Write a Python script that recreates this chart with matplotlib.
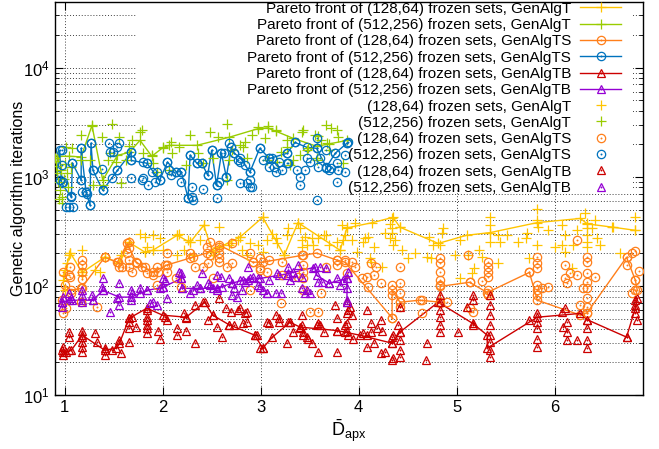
import matplotlib.pyplot as plt
from matplotlib.patches import Rectangle
from matplotlib.legend_handler import HandlerTuple
from matplotlib.ticker import LogLocator, NullFormatter, FixedLocator

plt.rcParams['font.family'] = ['Liberation Sans', 'DejaVu Sans']
plt.rcParams['mathtext.fontset'] = 'custom'
plt.rcParams['mathtext.rm'] = 'Liberation Sans'
plt.rcParams['mathtext.it'] = 'Liberation Sans:italic'

# ---- Pareto fronts ----
pf_t128_x = [0.99, 1.06, 1.18, 1.41, 1.56, 1.66, 1.82, 1.90, 2.15, 2.28, 2.42, 2.51, 2.58, 2.79, 3.02, 3.24,
             3.38, 3.81, 3.88, 4.14, 4.35, 4.42, 4.81, 5.10, 5.34, 5.82, 6.26, 6.33, 6.59, 6.82]
pf_t128_y = [125, 200, 133, 183, 161, 250, 204, 212, 291, 250, 359, 204, 226, 280, 425, 191,
             380, 212, 340, 380, 425, 345, 245, 291, 308, 380, 415, 370, 345, 323]

pf_t512_x = [0.92, 1.05, 1.17, 1.28, 1.39, 1.54, 1.66, 1.77, 1.89, 2.00, 2.07, 2.35, 2.68, 2.97, 3.07,
             3.16, 3.33, 3.57, 3.70, 3.88]
pf_t512_y = [1540, 1540, 1520, 2950, 930, 1570, 1670, 2155, 1540, 1840, 1940, 1940, 2300, 2750, 2800,
             2600, 2250, 1900, 2000, 2150]

pf_ts128_x = [0.97, 1.00, 1.07, 1.17, 1.41, 1.54, 1.64, 1.73, 1.90, 2.04, 2.28, 2.45, 2.58, 2.92, 3.02,
              3.43, 3.57, 3.78, 3.86, 4.34, 4.34, 4.42, 4.62, 4.83, 4.83, 5.13, 5.31, 5.74, 5.82, 6.26,
              6.33, 6.73, 6.82, 6.84]
pf_ts128_y = [74, 101, 91, 95, 183, 165, 245, 165, 133, 155, 180, 200, 236, 165, 165,
              191, 200, 172, 165, 51, 91, 71, 74, 71, 99, 108, 87, 133, 74, 54,
              57, 183, 113, 91]

pf_ts512_x = [0.92, 0.95, 0.97, 1.07, 1.08, 1.17, 1.17, 1.22, 1.26, 1.27, 1.29, 1.39, 1.54, 1.68, 1.68,
              1.84, 1.97, 2.05, 2.14, 2.19, 2.26, 2.28, 2.35, 2.40, 2.46, 2.50, 2.55, 2.60, 2.65, 2.70,
              2.73, 2.79, 2.89, 2.99, 3.09, 3.27, 3.35, 3.47, 3.57, 3.67, 3.76, 3.88]
pf_ts512_y = [1030, 1746, 870, 650, 1330, 930, 1820, 720, 550, 2030, 1145, 750, 1145, 1670, 1410,
              1330, 930, 1360, 1110, 1110, 640, 1570, 1330, 1330, 1030, 1746, 834, 1640, 990, 1860,
              1640, 1500, 1100, 1820, 1470, 1640, 2060, 1860, 1820, 1220, 1640, 2030]

pf_tb128_x = [0.97, 1.02, 1.07, 1.18, 1.41, 1.53, 1.56, 1.66, 1.84, 2.00, 2.24, 2.43, 2.51, 2.68, 2.94,
              3.02, 3.12, 3.30, 3.40, 3.78, 4.01, 4.34, 4.42, 4.81, 5.16, 5.31, 5.31, 5.82, 6.26, 6.33,
              6.73, 6.82, 6.84]
pf_tb128_y = [25.8, 24.7, 25.8, 35.4, 25.8, 26.9, 29.8, 50.6, 62.5, 54, 51.7, 70.9, 54, 44, 35.4,
              26.9, 34, 46.5, 42, 39, 35.4, 29.9, 37.8, 70.9, 45.5, 35.4, 26.9, 51.7, 56, 49,
              34, 62.5, 77]

pf_tb512_x = [0.97, 1.05, 1.18, 1.29, 1.39, 1.56, 1.68, 1.84, 2.00, 2.19, 2.20, 2.38, 2.55, 2.71, 2.82,
              2.99, 3.19, 3.28, 3.55, 3.57, 3.70, 3.88, 3.88]
pf_tb512_y = [71, 74, 74, 74, 91, 79, 79, 91, 97, 117, 95, 95, 95, 106, 113,
              117, 125, 130, 148, 125, 106, 117, 74]

# ---- all frozen sets ----
t128_x = [1.00, 1.06, 0.98, 1.18, 1.18, 1.31, 1.41, 1.56, 1.58, 1.66, 1.77, 1.82, 1.84, 1.82, 1.90, 1.97,
          2.15, 2.15, 2.22, 2.28, 2.42, 2.51, 2.58, 2.58, 2.70, 2.79, 2.81, 1.00, 1.03, 1.05, 1.18, 1.36,
          1.90, 2.00, 2.17, 2.26, 2.31, 2.38, 2.51, 2.86, 3.02, 3.16, 3.27, 3.40, 3.42, 3.47, 3.53, 3.58,
          3.65, 2.68, 2.77, 2.89, 2.97, 3.02, 3.06, 3.12, 3.17, 3.24, 3.28, 3.38, 3.42, 3.45, 3.52, 3.67,
          3.70, 3.78, 3.81, 3.83, 3.88, 3.86, 3.96, 3.98, 4.04, 4.06, 4.09, 4.16, 4.24, 4.27, 4.32, 4.34,
          4.32, 4.35, 4.34, 4.37, 4.11, 4.13, 4.34, 4.42, 4.44, 4.50, 4.57, 4.72, 4.76, 4.70, 4.74, 4.83,
          4.85, 4.86, 4.98, 5.03, 5.03, 5.11, 5.15, 5.18, 5.23, 5.26, 5.34, 5.34, 5.34, 5.34, 5.42, 5.44,
          5.42, 5.51, 5.62, 5.71, 5.72, 5.74, 5.82, 5.82, 5.83, 5.82, 5.93, 6.00, 6.07, 6.07, 6.10, 6.10,
          6.18, 6.17, 6.23, 6.31, 6.33, 6.33, 6.33, 6.33, 6.33, 6.38, 6.41, 6.43, 6.46, 6.58, 6.66, 6.82,
          6.82, 3.84, 3.93]
t128_y = [91, 199, 113, 212, 133, 139, 183, 162, 191, 251, 302, 279, 226, 203, 212, 273,
          291, 191, 212, 251, 359, 203, 345, 226, 246, 279, 212, 139, 162, 191, 125, 133,
          291, 212, 302, 262, 191, 262, 191, 191, 203, 273, 291, 338, 262, 236, 236, 273,
          291, 236, 262, 246, 236, 425, 262, 302, 246, 191, 338, 380, 226, 279, 273, 291,
          236, 251, 212, 359, 345, 291, 380, 203, 251, 273, 279, 226, 148, 308, 372, 415,
          273, 236, 308, 262, 179, 165, 338, 345, 212, 179, 199, 279, 236, 183, 179, 236,
          308, 338, 191, 117, 262, 191, 130, 145, 212, 183, 425, 359, 308, 251, 291, 251,
          162, 291, 251, 273, 308, 179, 510, 399, 345, 236, 323, 226, 236, 359, 291, 203,
          236, 145, 323, 470, 380, 338, 291, 251, 226, 338, 399, 273, 236, 345, 199, 425,
          323, 262, 262]

t512_x = [0.90, 0.93, 0.95, 0.97, 0.92, 1.02, 1.03, 1.07, 1.08, 1.17, 1.17, 1.26, 1.28, 1.38, 1.39, 1.48,
          1.46, 1.53, 1.56, 1.58, 1.66, 1.69, 1.79, 1.80, 1.89, 1.90, 2.00, 2.09, 2.10, 2.17, 2.28, 2.36,
          2.41, 2.48, 2.51, 2.56, 2.66, 2.71, 2.82, 2.86, 2.97, 3.04, 3.06, 3.16, 3.21, 3.27, 3.33, 3.43,
          3.48, 3.55, 3.57, 3.62, 3.68, 2.84, 2.91, 3.07, 3.42, 3.47, 3.58, 3.67, 3.70, 3.78, 3.79, 3.57,
          3.40, 3.30, 3.27, 2.66, 3.17, 2.79, 3.72, 3.84, 1.29, 1.44, 1.63, 1.94, 2.07, 2.24, 2.68, 1.77,
          0.91, 0.93, 0.96, 0.99, 1.01, 1.04, 0.94, 0.97]
t512_y = [1500, 890, 751, 650, 1075, 1860, 1075, 1220, 1820, 2395, 1414, 1414, 2890, 2300, 834, 3070,
          1640, 1360, 2300, 870, 1900, 2155, 2660, 1640, 1571, 1330, 1860, 2070, 1640, 1860, 2395, 1640,
          1330, 2550, 1500, 2300, 3070, 1746, 1860, 1500, 2830, 2250, 1414, 2660, 1670, 2155, 1414, 2660,
          1820, 2395, 1414, 2155, 2030, 2070, 2395, 2890, 2550, 1746, 2350, 2954, 1746, 2660, 2300, 1500,
          1571, 1272, 1860, 927, 1360, 1940, 2770, 1330, 834, 1414, 1414, 1100, 1145, 1272, 1414, 2550,
          1250, 1400, 1150, 950, 1300, 800, 620, 580]

ts128_x = [0.98, 1.06, 1.06, 1.18, 1.18, 1.18, 1.18, 1.41, 1.55, 1.56, 1.66, 1.66, 1.66, 1.66, 1.69, 1.74,
           1.82, 1.84, 1.94, 1.95, 2.02, 2.05, 2.05, 2.14, 2.28, 2.31, 2.33, 2.41, 2.45, 2.48, 2.48, 2.58,
           2.58, 2.58, 2.66, 2.71, 2.51, 0.98, 1.02, 1.05, 1.07, 1.18, 1.17, 1.33, 1.59, 1.64, 1.79, 1.90,
           1.94, 2.04, 2.19, 2.46, 2.58, 2.71, 2.89, 2.92, 2.99, 3.06, 3.22, 3.21, 3.42, 3.43, 3.43, 3.43,
           3.43, 3.50, 3.58, 3.62, 2.89, 2.99, 2.99, 3.09, 3.22, 3.38, 3.67, 3.78, 3.78, 3.86, 3.88, 3.93,
           3.96, 4.03, 4.08, 4.09, 4.13, 4.16, 4.18, 4.23, 4.34, 4.34, 4.34, 4.42, 4.42, 4.42, 4.42, 4.42,
           4.64, 4.64, 4.83, 4.83, 4.83, 4.83, 4.83, 4.83, 4.90, 5.11, 5.13, 5.13, 5.16, 5.26, 5.32, 5.32,
           5.32, 5.32, 5.32, 5.32, 5.74, 5.82, 5.82, 5.82, 5.82, 5.82, 5.82, 5.87, 5.93, 6.10, 6.10, 6.12,
           6.15, 6.23, 6.23, 6.26, 6.29, 6.33, 6.33, 6.33, 6.33, 6.33, 6.33, 6.33, 6.33, 6.41, 6.73, 6.73,
           6.79, 6.82, 6.82, 6.79, 6.82, 6.86]
ts128_y = [133, 148, 120, 172, 155, 133, 115, 183, 165, 148, 251, 222, 172, 148, 133, 162,
           148, 130, 148, 133, 155, 199, 133, 117, 199, 183, 148, 148, 226, 251, 191, 226,
           199, 165, 148, 246, 117, 56, 62.5, 125, 87, 95, 71, 64, 148, 199, 148, 125,
           101, 155, 97, 162, 179, 162, 91, 165, 145, 133, 165, 70, 191, 155, 133, 117,
           91, 57.5, 57.5, 86, 199, 179, 139, 172, 125, 120, 148, 172, 155, 172, 130, 165,
           148, 117, 120, 97, 162, 125, 148, 106, 101, 82, 51, 148, 106, 87, 71, 64,
           74, 56, 179, 162, 133, 113, 101, 70, 71, 191, 108, 62.5, 57.5, 110, 165, 148,
           133, 120, 91, 82, 133, 183, 162, 145, 101, 91, 82, 95, 97, 155, 117, 106,
           130, 262, 125, 67, 95, 183, 165, 130, 108, 95, 77, 64, 56, 120, 183, 155,
           199, 207, 113, 86, 91, 136]

ts512_x = [0.97, 0.97, 0.95, 0.98, 1.07, 1.05, 1.09, 1.08, 1.17, 1.17, 1.18, 1.22, 1.23, 1.26, 1.27, 1.29,
           1.38, 1.39, 1.45, 1.48, 1.46, 1.49, 1.54, 1.54, 1.56, 1.68, 1.68, 1.68, 1.79, 1.80, 1.84, 1.80,
           1.85, 1.89, 1.92, 1.94, 1.97, 2.05, 2.07, 2.09, 2.14, 2.19, 2.19, 2.26, 2.28, 2.30, 2.35, 2.40,
           2.41, 2.46, 2.50, 2.55, 2.55, 2.60, 2.65, 2.70, 2.73, 2.77, 2.79, 2.86, 1.02, 2.30, 2.31, 2.89,
           3.57, 3.09, 3.16, 3.27, 3.40, 3.47, 2.58, 2.63, 2.68, 2.79, 2.84, 2.89, 2.89, 2.91, 2.99, 3.02,
           3.09, 3.12, 3.14, 3.19, 3.22, 3.27, 3.28, 3.35, 3.37, 3.40, 3.45, 3.50, 3.57, 3.58, 3.57, 3.67,
           3.67, 3.70, 3.76, 3.78, 3.79, 3.86, 3.88, 3.89, 3.60, 3.78, 3.86, 3.72]
ts512_y = [1746, 1272, 927, 890, 660, 530, 530, 1330, 927, 1820, 720, 720, 700, 547, 2030, 1145,
           1180, 751, 2030, 970, 1670, 1670, 1860, 1145, 2030, 1670, 1414, 970, 927, 1360, 1330, 970,
           834, 1100, 890, 1100, 927, 1360, 1145, 1030, 1100, 1100, 890, 635, 1571, 800, 1330, 1330,
           780, 1030, 1746, 834, 635, 1640, 990, 1860, 1640, 1414, 870, 870, 530, 650, 608, 800,
           608, 1220, 1100, 1330, 834, 1500, 890, 1640, 2030, 1360, 1272, 1100, 927, 800, 1820, 1414,
           1470, 1500, 1220, 1360, 1145, 1640, 1330, 2070, 1145, 990, 1145, 1360, 1820, 1220, 2250, 1200,
           1746, 1145, 1640, 1330, 1145, 1100, 2030, 2070, 1470, 890, 1571, 1200]

tb128_x = [0.98, 0.98, 0.98, 1.05, 1.05, 1.05, 1.18, 1.18, 1.18, 1.18, 1.18, 1.31, 1.33, 1.41, 1.41, 1.48,
           1.56, 1.58, 1.66, 1.66, 1.66, 1.66, 1.69, 1.73, 1.84, 1.84, 1.84, 1.84, 1.84, 1.84, 1.95, 1.97,
           2.02, 2.05, 2.15, 2.15, 2.22, 2.24, 2.24, 2.33, 2.33, 2.41, 2.46, 2.51, 2.55, 2.58, 2.61, 2.65,
           2.70, 2.73, 2.77, 2.82, 2.84, 2.68, 2.79, 2.86, 2.86, 2.96, 2.99, 3.02, 3.06, 3.16, 3.19, 3.27,
           3.30, 3.33, 3.42, 3.42, 3.43, 3.47, 3.52, 3.57, 3.58, 3.60, 3.65, 2.94, 3.09, 3.19, 3.28, 3.40,
           3.43, 3.48, 3.58, 3.78, 3.78, 3.88, 3.89, 3.88, 3.88, 3.88, 3.89, 3.93, 3.94, 4.08, 4.08, 4.13,
           4.13, 4.16, 4.19, 4.23, 4.27, 4.34, 4.35, 4.35, 3.76, 3.78, 3.86, 3.86, 3.91, 4.04, 4.08, 4.23,
           4.24, 4.34, 4.34, 4.40, 4.42, 4.42, 4.42, 4.42, 4.42, 4.70, 4.69, 4.83, 4.83, 4.83, 4.83, 4.83,
           4.83, 5.01, 5.10, 5.16, 5.16, 5.16, 5.34, 5.34, 5.34, 5.34, 5.34, 5.34, 5.34, 5.34, 5.74, 5.82,
           5.82, 5.82, 5.82, 5.82, 6.10, 6.12, 6.12, 6.12, 6.23, 6.33, 6.33, 6.33, 6.33, 6.73, 6.82, 6.82,
           6.84, 6.82, 6.07, 6.08]
tb128_y = [27.5, 23.2, 24.8, 25.8, 38, 34, 39, 34, 30.4, 27.5, 24.8, 37, 30.4, 27, 23.2, 25.8,
           32, 24.2, 51, 46.5, 41, 30.4, 51.7, 42, 60, 51.7, 49, 44, 41, 37, 39, 33,
           51.7, 49, 41, 35.4, 56, 51, 39, 29.9, 67, 71, 49, 54, 42, 77, 34, 62.5,
           57.5, 44, 60, 45.5, 56, 44, 62.5, 46.5, 57.5, 35.4, 27, 27, 46.5, 54, 46.5, 29.9,
           46.5, 38, 54, 44, 38, 34, 29.9, 44, 24.8, 44, 38, 35.4, 45.5, 51, 46.5, 41,
           35.4, 33, 45.5, 51, 39, 71, 60, 56, 45.5, 39, 35.4, 54, 33, 60, 35.4, 45.5,
           38, 29.9, 41, 49, 24.8, 29.9, 35.4, 21.8, 67, 24.8, 38, 44, 64, 37, 27.5, 24.2,
           39, 34, 20.9, 44, 38, 32, 25.8, 22.3, 64, 29.9, 20.9, 82, 71, 60, 51.7, 44,
           38, 38, 64, 82, 74, 44, 82, 67, 54, 44, 35.4, 30.4, 25.8, 22.3, 49, 56,
           46.5, 41, 33, 27.5, 62.5, 46.5, 38, 32, 32, 49, 41, 32, 27, 34, 67, 56,
           49, 74, 57.5, 42]

tb512_x = [0.97, 0.97, 0.98, 1.05, 1.07, 1.08, 1.18, 1.18, 1.18, 1.28, 1.29, 1.38, 1.39, 1.39, 1.46, 1.54,
           1.56, 1.56, 1.68, 1.68, 1.69, 1.77, 1.84, 1.87, 1.97, 2.00, 2.00, 2.02, 2.05, 2.19, 2.19, 2.20,
           2.28, 2.31, 2.38, 2.40, 2.46, 2.51, 2.55, 2.60, 2.61, 2.71, 2.73, 2.79, 2.84, 2.81, 1.77, 1.90,
           1.94, 2.17, 2.35, 2.48, 2.55, 2.68, 2.71, 2.76, 2.87, 2.92, 2.97, 2.99, 3.02, 3.06, 3.09, 3.16,
           3.21, 3.27, 3.28, 3.33, 3.38, 3.47, 3.50, 3.58, 3.60, 3.67, 2.87, 2.89, 2.97, 3.06, 3.17, 3.30,
           3.35, 3.42, 3.42, 3.45, 3.53, 3.63, 3.70, 3.81, 3.84, 3.88, 3.88, 3.88, 3.89, 3.78]
tb512_y = [71, 64, 79, 86, 77, 74, 91, 82, 71, 82, 74, 97, 117, 91, 57.5, 77,
           106, 67, 91, 74, 86, 95, 91, 70, 95, 117, 97, 113, 77, 130, 117, 95,
           86, 91, 95, 130, 106, 95, 91, 120, 97, 106, 95, 113, 108, 91, 87, 71,
           67, 133, 101, 101, 125, 117, 82, 79, 113, 120, 117, 97, 91, 87, 113, 87,
           87, 125, 148, 133, 155, 91, 86, 108, 148, 145, 148, 117, 101, 86, 130, 113,
           120, 120, 95, 86, 145, 108, 106, 101, 113, 117, 95, 71, 133, 117]

labels = [
    "Pareto front of (128,64) frozen sets, GenAlgT",
    "Pareto front of (512,256) frozen sets, GenAlgT",
    "Pareto front of (128,64) frozen sets, GenAlgTS",
    "Pareto front of (512,256) frozen sets, GenAlgTS",
    "Pareto front of (128,64) frozen sets, GenAlgTB",
    "Pareto front of (512,256) frozen sets, GenAlgTB",
    "(128,64) frozen sets, GenAlgT",
    "(512,256) frozen sets, GenAlgT",
    "(128,64) frozen sets, GenAlgTS",
    "(512,256) frozen sets, GenAlgTS",
    "(128,64) frozen sets, GenAlgTB",
    "(512,256) frozen sets, GenAlgTB",
]
colors = ["#ffc400", "#99cc00", "#ff7f1a", "#0072bd", "#cc0000", "#9400d3"]
markers = ["+", "+", "o", "o", "^", "^"]
fronts = [(pf_t128_x, pf_t128_y), (pf_t512_x, pf_t512_y), (pf_ts128_x, pf_ts128_y),
          (pf_ts512_x, pf_ts512_y), (pf_tb128_x, pf_tb128_y), (pf_tb512_x, pf_tb512_y)]
sets = [(t128_x, t128_y), (t512_x, t512_y), (ts128_x, ts128_y),
        (ts512_x, ts512_y), (tb128_x, tb128_y), (tb512_x, tb512_y)]

fig = plt.figure(figsize=(6.59, 4.49), dpi=100)
ax = fig.add_axes([0.083, 0.12, 0.893, 0.876])
ax.set_yscale("log")
ax.set_xlim(0.9, 6.9)
ax.set_ylim(10, 40000)


def draw(x, y, i, ls, z):
    m = markers[i]
    ms = 7.5 if m == "+" else 6
    main, = ax.plot(x, y, ls=ls, lw=1, color=colors[i], marker=m, ms=ms,
                    mfc="none", mew=0.9, zorder=z)
    if m == "+":
        return main
    dot, = ax.plot(x, y, ls="none", marker="o", ms=1.4, mew=0,
                   color=colors[i], zorder=z)
    return (main, dot)


handles = []
for i, (x, y) in enumerate(fronts):
    handles.append(draw(x, y, i, "-", 2))
for i, (x, y) in enumerate(sets):
    handles.append(draw(x, y, i, "none", 3))

# grid, hidden under the key area like gnuplot's opaque key
ax.set_axisbelow(True)
ax.grid(True, which="both", axis="y", ls=(0, (1, 2)), color="0.25", lw=0.7)
ax.grid(True, which="major", axis="x", ls=(0, (1, 2)), color="0.25", lw=0.7)
ax.add_patch(Rectangle((0.139, 0.522), 0.844, 0.478, transform=ax.transAxes,
                       facecolor="white", edgecolor="none", zorder=1))

ax.xaxis.set_major_locator(FixedLocator([1, 2, 3, 4, 5, 6]))
ax.yaxis.set_major_locator(LogLocator(base=10, numticks=10))
ax.yaxis.set_minor_locator(LogLocator(base=10, subs=range(2, 10), numticks=20))
ax.yaxis.set_minor_formatter(NullFormatter())
ax.tick_params(which="both", direction="in", top=True, right=True, labelsize=12)
ax.tick_params(which="major", length=6)
ax.tick_params(which="minor", length=3)
for s in ax.spines.values():
    s.set_linewidth(1)

ax.set_ylabel("Genetic algorithm iterations", fontsize=11.5)
ax.yaxis.set_label_coords(-0.049, 0.5)
ax.set_xlabel(r"$\bar{\mathrm{D}}_{\mathrm{apx}}$", fontsize=13, labelpad=2)

leg = ax.legend(handles, labels, loc="upper right", bbox_to_anchor=(0.963, 1.0),
                markerfirst=False, frameon=False, fontsize=11, borderpad=0,
                borderaxespad=0, handlelength=2.7, handletextpad=0.6,
                labelspacing=0.15,
                handler_map={tuple: HandlerTuple(ndivide=1, pad=0)})
leg.set_zorder(5)

plt.savefig("out.png", dpi=100)
